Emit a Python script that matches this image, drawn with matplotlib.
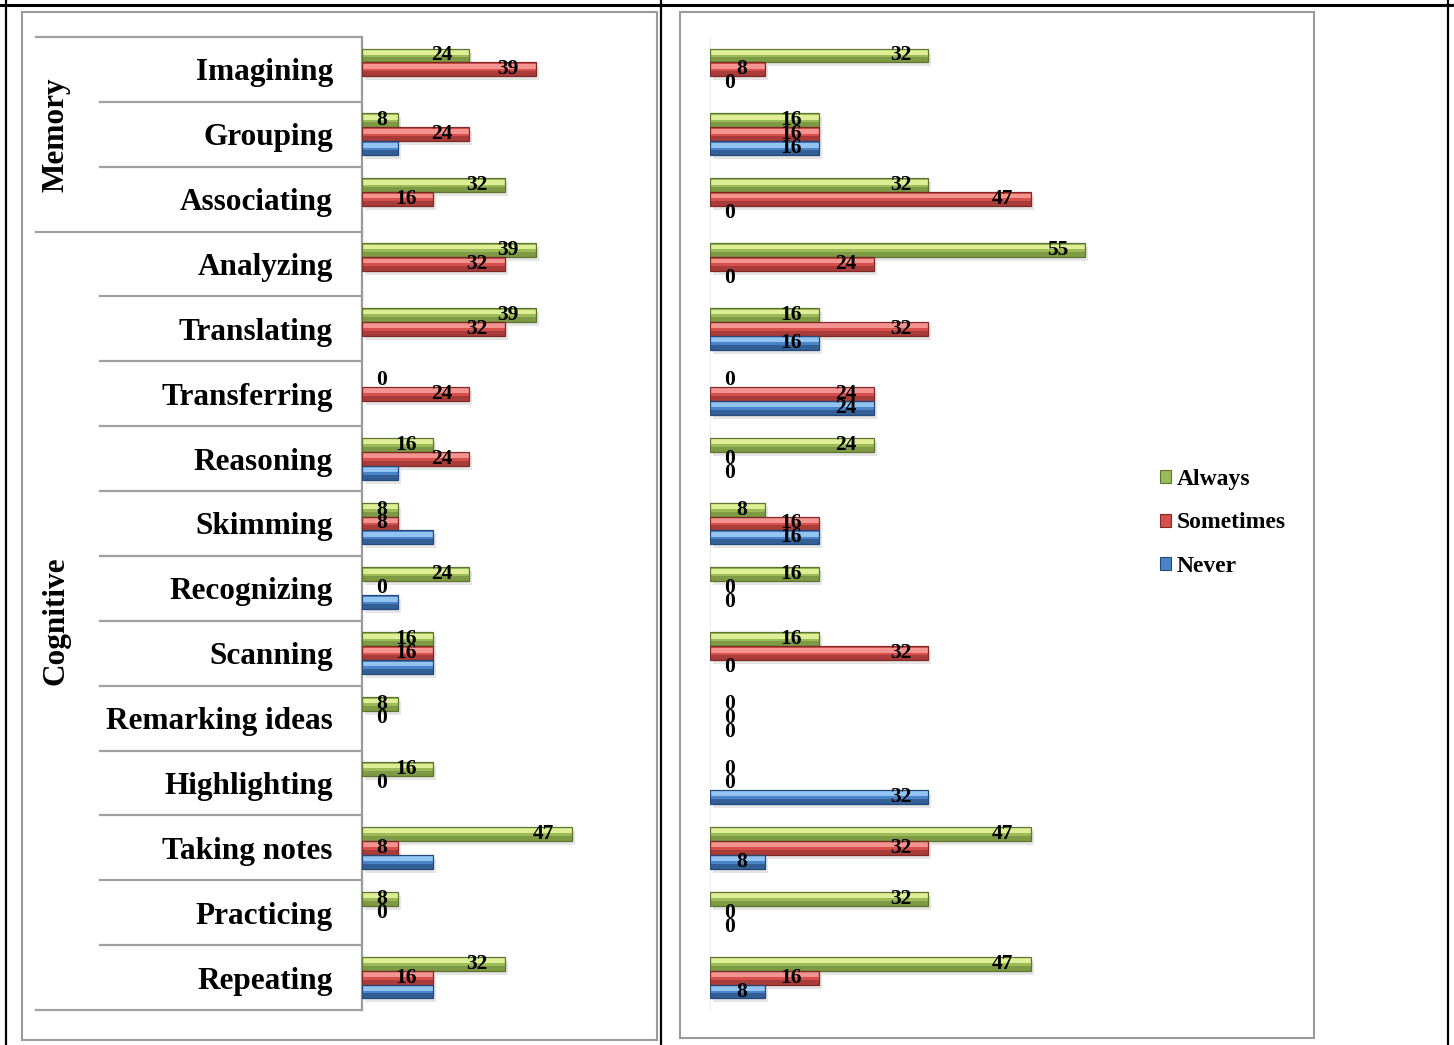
import matplotlib as mpl
mpl.use("Agg")
import matplotlib.pyplot as plt
from matplotlib.lines import Line2D
from matplotlib.patches import Patch, Rectangle
from matplotlib.transforms import blended_transform_factory, offset_copy


STRATEGIES = ["Imagining", "Grouping", "Associating", "Analyzing", "Translating",
              "Transferring", "Reasoning", "Skimming", "Recognizing", "Scanning",
              "Remarking ideas", "Highlighting", "Taking notes", "Practicing", "Repeating"]
GROUPS = [("Memory", 0, 2), ("Cognitive", 3, 14)]

# left chart
LEFT_ALWAYS = [24, 8, 32, 39, 39, 0, 16, 8, 24, 16, 8, 16, 47, 8, 32]
LEFT_SOMETIMES = [39, 24, 16, 32, 32, 24, 24, 8, 0, 16, 0, 0, 8, 0, 16]
LEFT_NEVER = [0, 8, 0, 0, 0, 0, 8, 16, 8, 16, 0, 0, 16, 0, 16]

# right chart
RIGHT_ALWAYS = [32, 16, 32, 55, 16, 0, 24, 8, 16, 16, 0, 0, 47, 32, 47]
RIGHT_SOMETIMES = [8, 16, 47, 24, 32, 24, 0, 16, 0, 32, 0, 0, 32, 0, 16]
RIGHT_NEVER = [0, 16, 0, 0, 16, 24, 0, 16, 0, 0, 0, 32, 8, 0, 8]

SERIES_NAMES = ["Always", "Sometimes", "Never"]
# base, top highlight, lower shade, outline
SERIES_COLORS = {
    "Always": ("#9BBB59", "#DDEE95", "#7E9A45", "#5E7430"),
    "Sometimes": ("#D5504C", "#F49390", "#A93C39", "#7F2A27"),
    "Never": ("#4A84C8", "#92C4F2", "#325F96", "#24497A"),
}

W, H = 1454, 1045
SERIF = "Liberation Serif"
BAR_H = 0.215
X_MAX = 62


def fx(px):
    return px / W


def fy(px):
    return 1 - px / H


def draw_bars(fig, ax, series, label_series):
    ys = list(range(len(STRATEGIES)))
    shadow = offset_copy(ax.transData, fig=fig, x=3, y=-4, units="dots")
    px_per_unit = ax.bbox.width / X_MAX
    for k, (name, vals) in enumerate(zip(SERIES_NAMES, series)):
        base, light, dark, edge = SERIES_COLORS[name]
        pos = [y + (k - 1) * BAR_H for y in ys]
        ax.barh(pos, vals, height=BAR_H, color="black", alpha=0.10, transform=shadow, zorder=1)
        ax.barh(pos, vals, height=BAR_H, color=base, linewidth=0, zorder=2)
        ax.barh([p - BAR_H * 0.22 for p in pos], vals, height=BAR_H * 0.34, color=light, linewidth=0, zorder=3)
        ax.barh([p + BAR_H * 0.32 for p in pos], vals, height=BAR_H * 0.36, color=dark, linewidth=0, zorder=3)
        ax.barh(pos, vals, height=BAR_H, fill=False, edgecolor=edge,
                linewidth=[0.9 if v else 0 for v in vals], zorder=4)
        if name not in label_series:
            continue
        for p, v in zip(pos, vals):
            text = str(v)
            half_w = 5.5 * len(text)
            end_px = v * px_per_unit
            if end_px - 17 - half_w < 20:
                ax.annotate(text, (0, p), xytext=(20, 0), textcoords="offset pixels",
                            ha="center", va="center", fontsize=15.5, fontweight="bold",
                            family=SERIF, zorder=6)
            else:
                ax.annotate(text, (v, p), xytext=(-17, 0), textcoords="offset pixels",
                            ha="right", va="center", fontsize=15.5, fontweight="bold",
                            family=SERIF, zorder=6)


def setup_axes(ax):
    ax.set_xlim(0, X_MAX)
    ax.set_ylim(len(STRATEGIES) - 0.5, -0.5)
    ax.xaxis.set_visible(False)
    for side in ["top", "right", "bottom"]:
        ax.spines[side].set_visible(False)
    ax.set_facecolor("none")


def main():
    fig = plt.figure(figsize=(W / 100, H / 100), dpi=100)
    fig.patch.set_facecolor("white")

    # table borders
    fig.add_artist(Line2D([0, 1], [fy(5), fy(5)], color="black", lw=2.2, transform=fig.transFigure))
    for x in [6, 661, 1448]:
        fig.add_artist(Line2D([fx(x), fx(x)], [0, 1], color="black", lw=1.6, transform=fig.transFigure))

    # chart frames
    for x0, x1, y0, y1 in [(22, 657, 12, 1040), (680, 1314, 12, 1038)]:
        fig.add_artist(Rectangle((fx(x0), fy(y1)), fx(x1 - x0), (y1 - y0) / H, fill=False,
                                 edgecolor="#9a9a9a", lw=1.5, transform=fig.transFigure))

    bottom, height = fy(1010), (1010 - 37) / H
    ax_l = fig.add_axes([fx(362), bottom, fx(X_MAX * 4.46), height])
    ax_r = fig.add_axes([fx(710), bottom, fx(X_MAX * 6.82), height])
    setup_axes(ax_l)
    setup_axes(ax_r)

    draw_bars(fig, ax_l, [LEFT_ALWAYS, LEFT_SOMETIMES, LEFT_NEVER], ["Always", "Sometimes"])
    draw_bars(fig, ax_r, [RIGHT_ALWAYS, RIGHT_SOMETIMES, RIGHT_NEVER], SERIES_NAMES)

    # left category axis with two levels
    ax_l.spines["left"].set_color("#9a9a9a")
    ax_l.spines["left"].set_linewidth(1.6)
    ax_l.set_yticks(range(len(STRATEGIES)))
    ax_l.set_yticklabels(STRATEGIES, fontsize=22.5, fontweight="bold", family=SERIF)
    ax_l.tick_params(axis="y", length=0, pad=21)

    ax_r.spines["left"].set_color("#eeeeee")
    ax_r.set_yticks([])

    trans = blended_transform_factory(fig.transFigure, ax_l.transData)
    group_edges = {g[1] - 0.5 for g in GROUPS} | {g[2] + 0.5 for g in GROUPS}
    for i in range(len(STRATEGIES) + 1):
        edge = i - 0.5
        start = 36 if edge in group_edges else 100
        ax_l.plot([fx(start), fx(361)], [edge, edge], color="#a0a0a0", lw=1.6,
                  transform=trans, clip_on=False, zorder=5)
    for name, first, last in GROUPS:
        ax_l.text(fx(56), (first + last) / 2, name, rotation=90, ha="center", va="center",
                  fontsize=22.5, fontweight="bold", family=SERIF, transform=trans)

    handles = [Patch(facecolor=SERIES_COLORS[n][0], edgecolor=SERIES_COLORS[n][3], lw=0.8)
               for n in SERIES_NAMES]
    fig.legend(handles, SERIES_NAMES, loc="center left", bbox_to_anchor=(fx(1160), fy(523)),
               frameon=False, prop={"family": SERIF, "weight": "bold", "size": 17},
               handlelength=0.47, handleheight=0.47, handletextpad=0.22, labelspacing=0.95,
               borderpad=0, borderaxespad=0)

    fig.savefig("out.png", dpi=100)
    plt.close(fig)


if __name__ == "__main__":
    main()
